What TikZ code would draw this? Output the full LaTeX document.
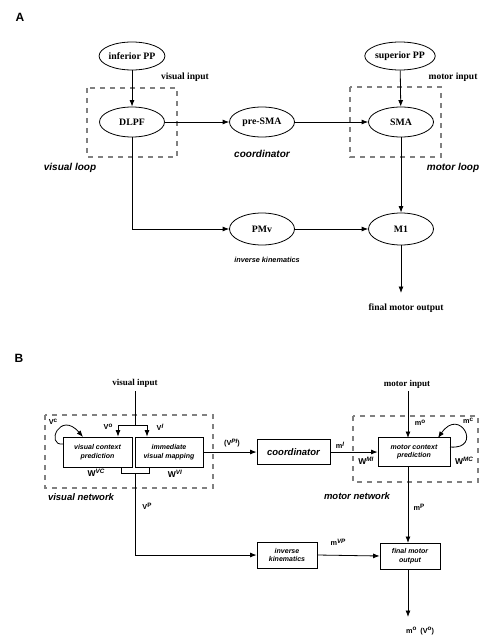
\documentclass[tikz,border=0pt]{standalone}
\usepackage{fontspec}
\setmainfont{Liberation Serif}
\setsansfont{Liberation Sans}
\usetikzlibrary{shapes.geometric,arrows.meta}
\newcommand{\spr}[1]{\raisebox{0.55ex}{\fontsize{6.3}{7}\selectfont #1}}
\begin{document}
\begin{tikzpicture}[x=1pt,y=-1pt,
  ell/.style={ellipse,draw,line width=0.8pt,minimum width=65,minimum height=30,inner sep=0,
    font=\rmfamily\bfseries\fontsize{9.8}{11}\selectfont},
  box/.style={draw,rectangle,line width=0.8pt,inner sep=0,align=center,
    font=\sffamily\bfseries\itshape\fontsize{7}{8.5}\selectfont},
  grp/.style={draw=gray,line width=1.1pt,dash pattern=on 5pt off 5pt},
  arr/.style={-{Latex[length=6.5pt,width=5pt]},line width=0.8pt},
  ln/.style={line width=0.8pt},
  ser/.style={inner sep=0,font=\rmfamily\bfseries\fontsize{9.5}{11}\selectfont},
  sit/.style={inner sep=0,font=\sffamily\bfseries\itshape\fontsize{10}{12}\selectfont},
  sml/.style={inner sep=0,font=\sffamily\bfseries\fontsize{7.3}{8}\selectfont},
  wlb/.style={inner sep=0,font=\sffamily\bfseries\fontsize{8.5}{9}\selectfont},
  panel/.style={inner sep=0,font=\sffamily\bfseries\fontsize{12}{14}\selectfont}
]
\useasboundingbox (0,0) rectangle (485,639);

% ---------------- Panel A ----------------
\node[panel] (A) at (20,17) {A};
\draw[grp] (87,88) rectangle (177,157);
\draw[grp] (350,87) rectangle (441,157);

\node[ell,minimum height=28] (infpp) at (132,56) {inferior PP};
\node[ell,minimum height=28] (suppp) at (400,56) {superior PP};
\node[ell] (dlpf) at (132,122) {DLPF};
\node[ell] (presma) at (262,122) {pre-SMA};
\node[ell] (sma) at (401,122) {SMA};
\node[ell,minimum height=32] (pmv) at (262,229) {PMv};
\node[ell,minimum height=32] (m1) at (401,229) {M1};
\coordinate (outA) at (401,293);

\node[ser] (vinA) at (185,77) {visual input};
\node[ser] (minA) at (453,77) {motor input};
\node[sit] (coordA) at (262,154) {coordinator};
\node[sit] (vloop) at (70,168) {visual loop};
\node[sit] (mloop) at (453,168) {motor loop};
\node[inner sep=0,font=\sffamily\bfseries\itshape\fontsize{7.3}{9}\selectfont] (ikA) at (267,260) {inverse kinematics};
\node[ser] (fmoA) at (406,308) {final motor output};

\draw[arr] (infpp) -- (dlpf);
\draw[arr] (suppp) -- (sma);
\draw[arr] (dlpf) -- (presma);
\draw[arr] (presma) -- (sma);
\draw[arr] (sma) -- (m1);
\draw[arr] (dlpf.south) |- (pmv.west);
\draw[arr] (pmv) -- (m1);
\draw[arr] (m1.south) -- (outA);

% ---------------- Panel B ----------------
\node[panel] (B) at (19,358) {B};
\draw[grp] (45,415) rectangle (213,488);
\draw[grp] (353,416) rectangle (478,482);

\node[ser,font=\rmfamily\bfseries\fontsize{9}{11}\selectfont] (vinB) at (135,383) {visual input};
\node[ser,font=\rmfamily\bfseries\fontsize{9}{11}\selectfont] (minB) at (407,384) {motor input};

\node[box,minimum width=69,minimum height=30] (vcp) at (97.5,452) {visual context\\prediction};
\node[box,minimum width=68,minimum height=30] (ivm) at (169,452) {immediate\\visual mapping};
\node[box,minimum width=73,minimum height=25,font=\sffamily\bfseries\itshape\fontsize{9.5}{11}\selectfont] (coord) at (293.5,452) {coordinator};
\node[box,minimum width=72,minimum height=29] (mcp) at (414,452) {motor context\\prediction};
\node[box,minimum width=60,minimum height=26] (ik) at (287,555) {inverse\\kinematics};
\node[box,minimum width=60,minimum height=26] (fmo) at (410,556) {final motor\\output};

% visual network wiring
\coordinate (vtop) at (135,391);
\coordinate (vbr) at (135,425);
\coordinate (vbl) at (118,425);
\coordinate (vbrr) at (147,425);
\draw[ln] (vtop) -- (vbr);
\draw[ln] (vbl) -- (vbrr);
\draw[arr] (vbl) -- (vbl |- vcp.north);
\draw[arr] (vbrr) -- (vbrr |- ivm.north);
\coordinate (ml) at (121,473);
\coordinate (mr) at (149,473);
\coordinate (mc) at (135,473);
\draw[ln] (ml |- vcp.south) -- (ml) -- (mr) -- (mr |- ivm.south);
\draw[arr] (mc) |- (ik.west);
% V^c loop
\coordinate (vcs) at (63,444);
\coordinate (vce) at (83,437);
\draw[arr] (vcs) .. controls (45,446) and (60,410) .. (vce);

\draw[arr] (ivm.east) -- (coord.west);
\draw[arr] (coord.east) -- (mcp.west);

% motor network wiring
\coordinate (mtop) at (408,391);
\draw[arr] (mtop) -- (408,438);
\coordinate (mcs) at (450,447);
\coordinate (mce) at (438,438);
\draw[arr] (mcs) .. controls (483,450) and (460,406) .. (mce);
\coordinate (mbot) at (408,467);
\draw[arr] (mbot) -- (408,543);
\draw[arr] (ik.east) -- (fmo.west);
\coordinate (outB) at (408,617);
\draw[arr] (408,569) -- (outB);

% labels
\node[sml] (lvc) at (53,422) {V\spr{c}};
\node[sml] (lvo) at (108,427) {V\spr{o}};
\node[sml] (lvi) at (160,427) {V\spr{\textit{I}}};
\node[wlb] (lwvc) at (96,473) {W\spr{\textit{VC}}};
\node[wlb] (lwvi) at (175,474) {W\spr{\textit{VI}}};
\node[sml] (lvpi) at (232,443) {(V\spr{\textit{PI}})};
\node[sit,font=\sffamily\bfseries\itshape\fontsize{9.5}{11}\selectfont] (vnet) at (81,497) {visual network};
\node[sml] (lvp) at (147,506) {V\spr{P}};
\node[sml] (lmi) at (340,445) {m\spr{\textit{I}}};
\node[wlb] (lwmi) at (366,461) {W\spr{\textit{MI}}};
\node[wlb] (lwmc) at (464,461) {W\spr{\textit{MC}}};
\node[sml] (lmo) at (420,423) {m\spr{o}};
\node[sml] (lmc) at (468,421) {m\spr{c}};
\node[sit,font=\sffamily\bfseries\itshape\fontsize{9.5}{11}\selectfont] (mnet) at (357,496) {motor network};
\node[sml] (lmp) at (419,507) {m\spr{P}};
\node[sml] (lmvp) at (338,542) {m\spr{\textit{VP}}};
\node[sml] (lout) at (420,631) {m\spr{o}\ \ (V\spr{o})};
\end{tikzpicture}
\end{document}
